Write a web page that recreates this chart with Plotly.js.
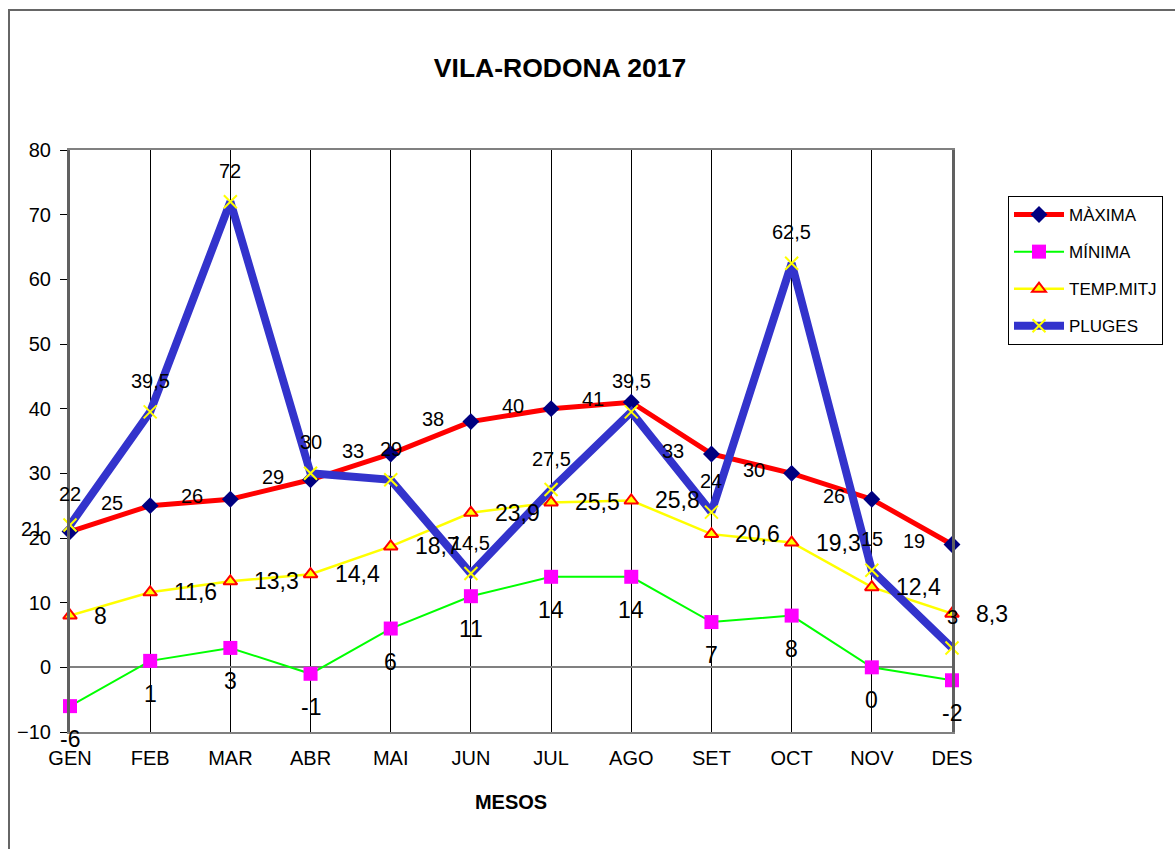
<!DOCTYPE html>
<html>
<head>
<meta charset="utf-8">
<script src="https://cdn.plot.ly/plotly-3.0.1.min.js"></script>
<style>
html,body{margin:0;padding:0;overflow:hidden;background:#fff;}
#chart{position:absolute;left:0;top:0;width:1175px;height:849px;}
#frame{position:absolute;left:8px;top:9px;width:1300px;height:1000px;border-left:2px solid #666;border-top:2px solid #666;pointer-events:none;z-index:10;}
</style>
</head>
<body>
<div id="chart"></div>
<div id="frame"></div>
<script>
const months = ['GEN','FEB','MAR','ABR','MAI','JUN','JUL','AGO','SET','OCT','NOV','DES'];
const maxima = [21,25,26,29,33,38,40,41,33,30,26,19];
const minima = [-6,1,3,-1,6,11,14,14,7,8,0,-2];
const tempMitj = [8,11.6,13.3,14.4,18.7,23.9,25.5,25.8,20.6,19.3,12.4,8.3];
const pluges = [22,39.5,72,30,29,14.5,27.5,39.5,24,62.5,15,3];
const seriesNames = ['MÀXIMA','MÍNIMA','TEMP.MITJ','PLUGES'];

const FONT = 'Liberation Sans, Arial, sans-serif';
function fmt(v){ return String(v).replace('.', ','); }

const traces = [
  {x: months, y: maxima, name: seriesNames[0], type: 'scatter', mode: 'lines+markers', cliponaxis: false,
   line: {color: '#FF0000', width: 5},
   marker: {symbol: 'diamond', size: 13, color: '#000080', line: {width: 0}}},
  {x: months, y: minima, name: seriesNames[1], type: 'scatter', mode: 'lines+markers', cliponaxis: false,
   line: {color: '#00FF00', width: 2},
   marker: {symbol: 'square', size: 14, color: '#FF00FF', line: {width: 0}}},
  {x: months, y: tempMitj, name: seriesNames[2], type: 'scatter', mode: 'lines+markers', cliponaxis: false,
   line: {color: '#FFFF00', width: 2.5},
   marker: {symbol: 'triangle-up', size: 12, color: '#FFFF00', line: {color: '#FF0000', width: 2}}},
  {x: months, y: pluges, name: seriesNames[3], type: 'scatter', mode: 'lines+markers', cliponaxis: false,
   line: {color: '#3333CC', width: 8},
   marker: {symbol: 'x-thin', size: 13, color: '#FFFF00', line: {color: '#FFFF00', width: 2}}}
];
traces.forEach((t, i) => { t.legendgroup = 'g' + i; });

const annotations = [];
function addLabels(vals, opts){
  vals.forEach((v, i) => {
    annotations.push(Object.assign({
      x: months[i], y: v, xref: 'x', yref: 'y', text: fmt(v), showarrow: false
    }, opts));
  });
}
addLabels(maxima,   {xshift: -38, yshift: 3, font: {family: FONT, size: 20, color: '#000'}});
addLabels(minima,   {yshift: -33, font: {family: FONT, size: 23, color: '#000'}});
addLabels(tempMitj, {xanchor: 'left', xshift: 22, yshift: 0, font: {family: FONT, size: 23, color: '#000'}});
addLabels(pluges,   {yshift: 31, font: {family: FONT, size: 20, color: '#000'}});

const layout = {
  width: 1175, height: 849,
  margin: {l: 70, r: 223, t: 150, b: 117, pad: 0},
  paper_bgcolor: '#fff', plot_bgcolor: '#fff',
  font: {family: FONT, size: 20, color: '#000'},
  title: {text: '<b>VILA-RODONA 2017</b>', x: 0.4766, xref: 'container', xanchor: 'center',
          y: 0.92, yref: 'container', yanchor: 'middle', font: {family: FONT, size: 26.5, color: '#000'}},
  showlegend: true,
  legend: {x: 1.0635, xanchor: 'left', y: 0.921, yanchor: 'top', bordercolor: '#000', borderwidth: 1,
           bgcolor: '#fff', font: {family: FONT, size: 17, color: '#000'}, traceorder: 'grouped',
           tracegroupgap: 12, itemwidth: 50},
  xaxis: {type: 'category', range: [0, 11], showgrid: true, gridcolor: '#000', gridwidth: 1,
          showline: true, linecolor: '#808080', linewidth: 2, mirror: true,
          ticks: '', ticklabelstandoff: 7, tickfont: {family: FONT, size: 20, color: '#000'}, zeroline: false,
          title: {text: '<b>MESOS</b>', font: {family: FONT, size: 20, color: '#000'}, standoff: 27}},
  yaxis: {range: [-10, 80], dtick: 10, tick0: 0, showgrid: false, zeroline: true, zerolinecolor: '#808080', zerolinewidth: 2,
          showline: true, linecolor: '#606060', linewidth: 3, mirror: true,
          ticks: 'outside', ticklen: 7, tickcolor: '#000', tickwidth: 1, ticklabelstandoff: 5,
          tickfont: {family: FONT, size: 20, color: '#000'}},
  yaxis2: {overlaying: 'y', side: 'left', range: [-10, 80], dtick: 10, tick0: 0, showgrid: false, zeroline: false,
           showline: false, ticks: 'inside', ticklen: 7, tickcolor: '#000', tickwidth: 1, showticklabels: false},
  annotations: annotations
};

Plotly.newPlot('chart', traces, layout, {displayModeBar: false, staticPlot: true});
</script>
</body>
</html>
